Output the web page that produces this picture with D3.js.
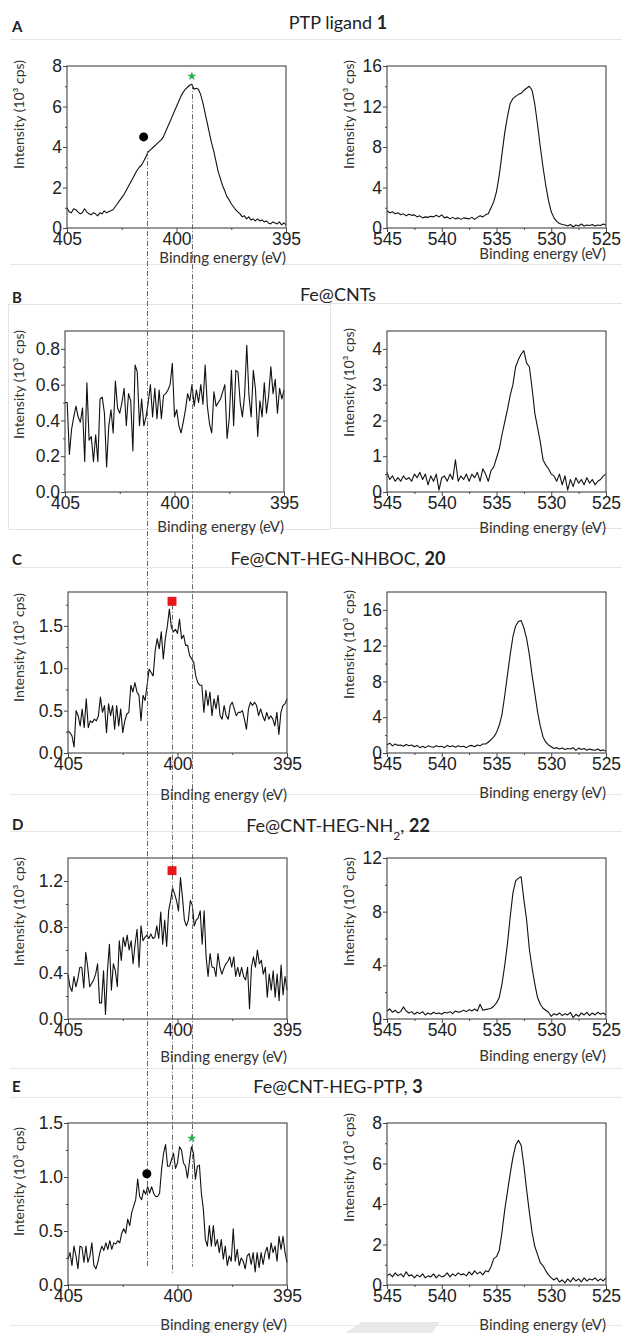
<!DOCTYPE html>
<html lang="en">
<head>
<meta charset="UTF-8">
<title>XPS N1s and O1s spectra</title>
<script src="https://d3js.org/d3.v7.min.js"></script>
<style>
  body { margin: 0; background: #fff; }
  svg { display: block; }
  .tick text { font-family: "Liberation Sans", Arial, sans-serif; font-size: 17.5px; fill: #222; }
  .tick line { stroke: #444; }
  .lbl { font-family: Lato, "Open Sans", sans-serif; fill: #333; }
</style>
</head>
<body>
<svg id="fig" width="622" height="1333"></svg>
<script>
// ---- text ----
const panelLetters = ["A", "B", "C", "D", "E"];
const panelTitles = [
  [{ t: "PTP ligand " }, { t: "1", bold: true }],
  [{ t: "Fe@CNTs" }],
  [{ t: "Fe@CNT-HEG-NHBOC, " }, { t: "20", bold: true }],
  [{ t: "Fe@CNT-HEG-NH" }, { t: "2", sub: true }, { t: ", " }, { t: "22", bold: true }],
  [{ t: "Fe@CNT-HEG-PTP, " }, { t: "3", bold: true }]
];

// ---- axes ----
const n1sRange = [405, 395];
const o1sRange = [545, 525];
const n1sTicks = [405, 400, 395];
const o1sTicks = [545, 540, 535, 530, 525];
const n1sYMax = [8, 0.9, 1.9, 1.4, 1.5];
const n1sYTicks = [[0, 2, 4, 6, 8], [0, 0.2, 0.4, 0.6, 0.8], [0, 0.5, 1, 1.5], [0, 0.4, 0.8, 1.2], [0, 0.5, 1, 1.5]];
const o1sYMax = [16, 4.5, 18, 12, 8];
const o1sYTicks = [[0, 4, 8, 12, 16], [0, 1, 2, 3, 4], [0, 4, 8, 12, 16], [0, 4, 8, 12], [0, 2, 4, 6, 8]];

// ---- spectra (10^3 cps), evenly sampled from left edge to right edge ----
const nLigand = [1.0,0.8,0.75,0.95,0.9,0.8,0.7,0.75,0.95,0.8,
  0.7,0.65,0.75,0.7,0.6,0.75,0.7,0.85,0.75,0.8,
  0.85,0.9,1.05,1.2,1.35,1.5,1.65,1.85,2.05,2.25,
  2.45,2.65,2.85,3.0,3.1,3.3,3.5,3.75,3.85,3.95,
  4.05,4.15,4.25,4.35,4.5,4.75,5.0,5.25,5.5,5.75,
  6.0,6.25,6.5,6.7,6.85,6.95,7.05,7.1,6.85,6.9,
  6.85,6.6,6.2,5.7,5.2,4.7,4.2,3.8,3.3,2.8,
  2.45,2.1,1.85,1.55,1.4,1.2,1.05,0.9,0.8,0.7,
  0.55,0.6,0.45,0.55,0.4,0.45,0.35,0.45,0.35,0.4,
  0.3,0.35,0.25,0.2,0.3,0.25,0.2,0.3,0.15,0.25,0.15];
const oLigand = [1.7,1.5,1.6,1.4,1.5,1.3,1.4,1.2,1.35,1.25,
  1.3,1.1,1.2,1.0,1.1,1.05,1.15,1.1,1.25,1.1,
  1.3,1.0,1.1,0.9,1.05,0.9,1.0,0.85,1.0,0.95,
  0.9,1.05,0.85,1.05,1.2,1.1,1.3,1.4,2.0,2.6,
  3.6,5.2,7.3,9.4,11.0,12.3,12.8,13.0,13.2,13.3,
  13.6,13.8,14.0,13.6,12.2,10.2,8.0,6.0,4.2,2.7,
  1.6,1.0,0.65,0.45,0.35,0.3,0.2,0.35,0.1,0.3,
  0.2,0.4,0.2,0.3,0.25,0.35,0.2,0.3,0.25,0.4,0.3];
const nFeCNT = [0.5,0.5,0.21,0.35,0.42,0.48,0.42,0.39,0.47,0.17,
  0.61,0.29,0.31,0.17,0.32,0.17,0.52,0.53,0.44,0.14,
  0.37,0.46,0.33,0.62,0.47,0.44,0.5,0.58,0.37,0.55,
  0.51,0.23,0.71,0.67,0.37,0.52,0.37,0.42,0.5,0.6,
  0.42,0.58,0.41,0.57,0.41,0.54,0.55,0.57,0.6,0.72,
  0.42,0.46,0.37,0.33,0.39,0.46,0.55,0.51,0.6,0.48,
  0.57,0.5,0.6,0.49,0.71,0.48,0.38,0.33,0.56,0.48,
  0.5,0.52,0.56,0.6,0.3,0.41,0.68,0.37,0.68,0.67,0.5,
  0.42,0.54,0.82,0.54,0.42,0.68,0.57,0.31,0.51,0.42,
  0.61,0.44,0.54,0.70,0.55,0.63,0.44,0.58,0.52,0.57];
const oFeCNT = [0.55,0.35,0.45,0.3,0.4,0.3,0.45,0.35,0.4,0.3,
  0.5,0.4,0.55,0.35,0.5,0.2,0.45,0.3,0.5,0.05,
  0.4,0.45,0.3,0.5,0.35,0.9,0.3,0.45,0.35,0.5,
  0.3,0.5,0.4,0.55,0.3,0.65,0.5,0.3,0.6,0.7,
  0.95,1.2,1.6,1.95,2.3,2.7,3.0,3.5,3.7,3.85,
  3.95,3.6,3.5,2.9,2.2,1.8,1.4,0.9,0.75,0.65,
  0.5,0.45,0.3,0.5,0.2,0.45,0.05,0.35,0.15,0.4,
  0.25,0.35,0.2,0.4,0.25,0.35,0.2,0.3,0.35,0.45,0.5];
const nBoc = [0.26,0.24,0.2,0.07,0.5,0.44,0.32,0.52,0.3,0.64,
  0.3,0.38,0.36,0.4,0.38,0.44,0.66,0.48,0.56,0.24,
  0.58,0.44,0.56,0.28,0.56,0.32,0.52,0.24,0.38,0.46,
  0.48,0.8,0.72,0.83,0.72,0.68,0.38,0.68,0.62,0.8,
  0.99,0.95,0.91,1.21,1.35,1.23,1.43,1.11,1.35,1.5,
  1.7,1.48,1.43,1.46,1.41,1.58,1.35,1.39,1.27,1.27,
  1.15,1.11,1.07,0.91,0.83,0.8,0.8,0.48,0.74,0.56,
  0.72,0.44,0.64,0.52,0.68,0.44,0.4,0.56,0.44,0.4,
  0.56,0.6,0.52,0.44,0.48,0.48,0.5,0.4,0.28,0.52,
  0.6,0.56,0.6,0.56,0.44,0.52,0.44,0.38,0.48,0.4,
  0.44,0.4,0.32,0.48,0.22,0.48,0.56,0.58,0.64];
const oBoc = [0.9,1.1,0.8,1.0,0.85,0.9,0.75,0.95,0.8,0.9,
  0.7,0.85,0.6,0.75,0.6,0.8,0.7,0.65,0.8,0.7,
  0.75,0.6,0.85,0.7,0.8,0.65,0.8,0.7,0.75,0.6,
  0.8,0.85,0.7,0.9,0.8,1.0,1.0,1.2,1.5,1.8,
  2.3,3.1,4.3,6.4,8.7,11.0,13.0,14.2,14.7,14.8,
  14.0,12.8,11.0,8.7,6.7,4.6,3.0,1.8,1.2,0.9,
  0.7,0.5,0.6,0.45,0.55,0.4,0.5,0.45,0.6,0.3,
  0.55,0.4,0.5,0.3,0.45,0.35,0.3,0.45,0.25,0.35,0.2];
const nAmine = [0.39,0.28,0.24,0.37,0.28,0.35,0.45,0.45,0.27,0.58,
  0.45,0.28,0.31,0.34,0.39,0.48,0.14,0.14,0.42,0.04,
  0.42,0.65,0.25,0.48,0.42,0.28,0.68,0.51,0.71,0.63,
  0.73,0.6,0.68,0.48,0.65,0.78,0.45,0.81,0.68,0.71,
  0.73,0.7,0.74,0.7,0.71,0.81,0.7,0.93,0.65,0.86,
  0.63,0.94,1.03,1.14,1.09,1.03,0.94,1.23,1.06,0.86,
  0.81,0.86,1.03,0.99,0.81,0.86,0.88,0.94,0.65,0.94,
  0.54,0.37,0.57,0.45,0.45,0.37,0.57,0.45,0.39,0.44,
  0.48,0.5,0.54,0.45,0.54,0.37,0.45,0.37,0.45,0.37,
  0.34,0.45,0.09,0.45,0.54,0.45,0.6,0.48,0.51,0.39,
  0.45,0.19,0.39,0.25,0.42,0.19,0.39,0.16,0.47,0.21,
  0.37,0.25];
const oAmine = [0.6,0.75,0.5,0.65,0.45,0.55,0.9,0.6,0.45,0.55,
  0.35,0.5,0.4,0.55,0.3,0.45,0.35,0.5,0.4,0.45,
  0.35,0.5,0.45,0.55,0.4,0.6,0.5,0.55,0.65,0.55,
  0.7,0.6,0.75,0.6,1.1,0.65,0.7,0.75,0.8,0.95,
  1.2,1.6,2.6,4.0,5.6,7.6,9.4,10.3,10.5,10.6,
  8.9,7.4,5.2,3.8,2.6,1.6,1.1,0.8,0.65,0.5,
  0.2,0.4,0.3,0.45,0.25,0.4,0.3,0.5,0.1,0.35,
  0.2,0.45,0.3,0.5,0.25,0.45,0.3,0.5,0.35,0.45,0.3];
const nPtp = [0.24,0.3,0.18,0.36,0.27,0.15,0.36,0.35,0.21,0.36,
  0.21,0.27,0.39,0.18,0.15,0.21,0.3,0.36,0.32,0.39,
  0.33,0.41,0.33,0.39,0.38,0.41,0.39,0.48,0.52,0.48,
  0.61,0.55,0.67,0.73,0.79,0.98,0.82,0.79,0.88,0.84,
  0.91,0.85,0.91,0.85,0.82,0.82,0.85,1.07,1.22,1.3,
  1.1,1.1,1.16,1.22,1.08,1.13,1.28,1.25,1.13,1.1,
  0.99,1.14,1.28,1.22,0.98,1.1,1.11,0.85,0.7,0.42,
  0.36,0.55,0.36,0.55,0.36,0.42,0.3,0.42,0.24,0.36,
  0.18,0.27,0.22,0.52,0.22,0.33,0.18,0.25,0.22,0.15,
  0.27,0.29,0.19,0.3,0.12,0.3,0.16,0.3,0.19,0.3,
  0.35,0.24,0.39,0.3,0.36,0.22,0.45,0.33,0.45,0.3,0.21];
const oPtp = [0.45,0.55,0.4,0.6,0.45,0.55,0.4,0.65,0.45,0.5,
  0.35,0.5,0.4,0.55,0.35,0.45,0.4,0.55,0.35,0.5,
  0.4,0.45,0.6,0.4,0.55,0.45,0.6,0.5,0.55,0.45,
  0.65,0.5,0.7,0.55,0.65,0.5,0.7,0.65,0.9,1.3,
  1.4,1.7,2.6,3.7,4.6,5.5,6.3,6.9,7.15,6.9,
  5.9,4.7,3.6,2.6,1.9,1.5,1.1,0.95,0.7,0.5,
  0.35,0.25,0.35,0.15,0.25,0.1,0.3,0.15,0.35,0.2,
  0.3,0.15,0.35,0.2,0.3,0.25,0.35,0.2,0.3,0.2,0.35];

const n1sSpectra = [nLigand, nFeCNT, nBoc, nAmine, nPtp];
const o1sSpectra = [oLigand, oFeCNT, oBoc, oAmine, oPtp];

// peak markers (row, binding energy, intensity)
const circleMarks = [{ row: 0, e: 401.5, v: 4.5 }, { row: 4, e: 401.4, v: 1.03 }];
const starMarks = [{ row: 0, e: 399.3, v: 7.5 }, { row: 4, e: 399.35, v: 1.36 }];
const squareMarks = [{ row: 2, e: 400.25, v: 1.79 }, { row: 3, e: 400.25, v: 1.29 }];
// dash-dot guides running down through the N1s column
const guideLines = [
  { e: 401.35, fromRow: 0, fromV: 3.8, toRow: 4, toV: 0.17 },
  { e: 399.3, fromRow: 0, fromV: 7.1, toRow: 4, toV: 0.17 },
  { e: 400.25, fromRow: 2, fromV: 1.75, toRow: 4, toV: 0.11 }
];

// ---- layout ----
const plotW = 219;
const oLeft = 387;
const layout = [
  { top: 66, bottom: 228, nLeft: 67, letterY: 32, titleY: 29, xlabY: [263, 259], ylabTop: [60, 60] },
  { top: 331, bottom: 492, nLeft: 65, letterY: 303, titleY: 301, xlabY: [532, 533], ylabTop: [330, 328] },
  { top: 592, bottom: 753, nLeft: 68, letterY: 565, titleY: 565, xlabY: [800, 798], ylabTop: [593, 590] },
  { top: 858, bottom: 1019, nLeft: 68, letterY: 830, titleY: 832, xlabY: [1062, 1061], ylabTop: [857, 857] },
  { top: 1123, bottom: 1285, nLeft: 68, letterY: 1092, titleY: 1093, xlabY: [1330, 1330], ylabTop: [1127, 1113] }
];
const sepLines = [39, 264, 567, 794, 831, 1068, 1097, 1325];

const svg = d3.select("#fig");

// faint panel borders and watermark fragments from the source page
svg.append("g").selectAll("line").data(sepLines).join("line")
  .attr("x1", 10).attr("x2", 622).attr("y1", d => d + 0.5).attr("y2", d => d + 0.5)
  .attr("stroke", "#e8e8e8");
svg.append("rect").attr("x", 8.5).attr("y", 304.5).attr("width", 322).attr("height", 225)
  .attr("fill", "none").attr("stroke", "#e4e4e4");
svg.append("rect").attr("x", 330.5).attr("y", 303.5).attr("width", 300).attr("height", 225)
  .attr("fill", "none").attr("stroke", "#e4e4e4");
svg.append("path").attr("d", "M345,1333 L362,1322 L440,1322 L432,1333 Z").attr("fill", "#e9e9e9");
svg.append("path").attr("d", "M198,1333 L204,1322 L214,1322 L212,1333 Z").attr("fill", "#e9e9e9");

const scales = [];

function minorOf(ticks, max) {
  const step = ticks[1] - ticks[0];
  return ticks.map(t => t + step / 2).filter(t => t < max - 1e-9);
}

function drawPlot(row, side) {
  const L = layout[row];
  const isN = side === 0;
  const left = isN ? L.nLeft : oLeft;
  const range = isN ? n1sRange : o1sRange;
  const xt = isN ? n1sTicks : o1sTicks;
  const ymax = isN ? n1sYMax[row] : o1sYMax[row];
  const yt = isN ? n1sYTicks[row] : o1sYTicks[row];
  const vals = isN ? n1sSpectra[row] : o1sSpectra[row];

  const x = d3.scaleLinear().domain(range).range([left, left + plotW]);
  const y = d3.scaleLinear().domain([0, ymax]).range([L.bottom, L.top]);
  const g = svg.append("g");

  const yfmt = yt.every(Number.isInteger) ? d3.format("d") : d3.format(".1f");
  const xMinor = xt.slice(1).map((t, i) => (t + xt[i]) / 2);

  g.append("g").attr("transform", `translate(0,${L.bottom})`)
    .call(d3.axisBottom(x).tickValues(xt).tickSize(4).tickPadding(1).tickFormat(d3.format("d")))
    .call(a => a.select(".domain").remove());
  g.append("g").attr("transform", `translate(0,${L.bottom})`)
    .call(d3.axisBottom(x).tickValues(xMinor).tickSize(2).tickFormat(""))
    .call(a => a.select(".domain").remove());
  g.append("g").attr("transform", `translate(${left},0)`)
    .call(d3.axisLeft(y).tickValues(yt).tickSize(4).tickPadding(1).tickFormat(yfmt))
    .call(a => a.select(".domain").remove());
  g.append("g").attr("transform", `translate(${left},0)`)
    .call(d3.axisLeft(y).tickValues(minorOf(yt, ymax)).tickSize(2).tickFormat(""))
    .call(a => a.select(".domain").remove());

  const energies = vals.map((v, i) => range[0] + (range[1] - range[0]) * i / (vals.length - 1));
  g.append("path")
    .datum(vals.map((v, i) => [energies[i], v]))
    .attr("fill", "none").attr("stroke", "#111").attr("stroke-width", 1.1)
    .attr("stroke-linejoin", "round")
    .attr("d", d3.line().x(d => x(d[0])).y(d => y(d[1])));

  g.append("rect")
    .attr("x", left).attr("y", L.top).attr("width", plotW).attr("height", L.bottom - L.top)
    .attr("fill", "none").attr("stroke", "#444").attr("stroke-width", 1.1);

  g.append("text").attr("class", "lbl")
    .attr("x", left + plotW).attr("y", L.xlabY[side])
    .attr("text-anchor", "end").style("font-size", "15px")
    .text("Binding energy (eV)");

  const yx = isN ? 24 : 354;
  g.append("text").attr("class", "lbl")
    .attr("transform", `translate(${yx},${L.ylabTop[side]}) rotate(-90)`)
    .attr("text-anchor", "end").style("font-size", "14px")
    .text("Intensity (10³ cps)");

  return { x, y };
}

layout.forEach((L, row) => {
  scales.push([drawPlot(row, 0), drawPlot(row, 1)]);

  svg.append("text").attr("class", "lbl")
    .attr("x", 12).attr("y", L.letterY)
    .style("font-size", "15px").style("font-weight", 700).style("fill", "#222")
    .text(panelLetters[row]);

  const t = svg.append("text").attr("class", "lbl")
    .attr("x", 338).attr("y", L.titleY).attr("text-anchor", "middle")
    .style("font-size", "18px").style("fill", "#222");
  panelTitles[row].forEach(p => {
    const s = t.append("tspan").text(p.t);
    if (p.bold) s.style("font-weight", 700);
    if (p.sub) s.attr("baseline-shift", "sub").style("font-size", "12px");
  });
});

// guides
svg.append("g").selectAll("line").data(guideLines).join("line")
  .attr("x1", d => Math.round(scales[d.fromRow][0].x(d.e)) + 0.5)
  .attr("x2", d => Math.round(scales[d.fromRow][0].x(d.e)) + 0.5)
  .attr("y1", d => scales[d.fromRow][0].y(d.fromV))
  .attr("y2", d => scales[d.toRow][0].y(d.toV))
  .attr("stroke", "#555").attr("stroke-width", 0.9)
  .attr("stroke-dasharray", "5,2,1,2");

// markers
const mk = svg.append("g");
mk.selectAll("circle").data(circleMarks).join("circle")
  .attr("cx", d => scales[d.row][0].x(d.e)).attr("cy", d => scales[d.row][0].y(d.v))
  .attr("r", 4.5).attr("fill", "#000");
mk.selectAll(".star").data(starMarks).join("path").attr("class", "star")
  .attr("transform", d => `translate(${scales[d.row][0].x(d.e)},${scales[d.row][0].y(d.v)})`)
  .attr("d", d3.symbol(d3.symbolStar, 26)).attr("fill", "#22b14c");
mk.selectAll(".sq").data(squareMarks).join("path").attr("class", "sq")
  .attr("transform", d => `translate(${scales[d.row][0].x(d.e)},${scales[d.row][0].y(d.v)})`)
  .attr("d", d3.symbol(d3.symbolSquare, 80)).attr("fill", "#e8161b");
</script>
</body>
</html>
